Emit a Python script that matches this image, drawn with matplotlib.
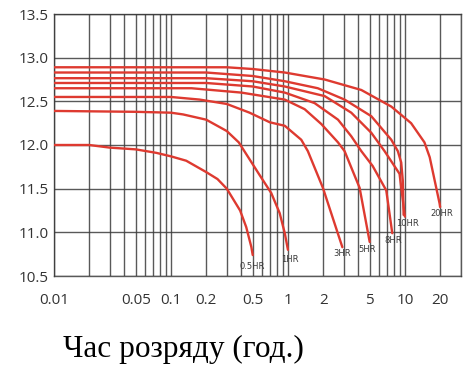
import matplotlib
matplotlib.use("Agg")
import matplotlib.pyplot as plt
from matplotlib.ticker import FixedLocator, NullFormatter, LogLocator

# ---- data (hours, volts) ----
h_05 = [0.01, 0.02, 0.03, 0.05, 0.075, 0.1, 0.135, 0.2, 0.25, 0.3, 0.39, 0.44, 0.487, 0.5]
v_05 = [12.0, 12.0, 11.97, 11.95, 11.91, 11.87, 11.82, 11.69, 11.61, 11.5, 11.25, 11.06, 10.83, 10.74]

h_1 = [0.01, 0.05, 0.1, 0.127, 0.2, 0.3, 0.38, 0.57, 0.72, 0.85, 0.94, 1.0]
v_1 = [12.39, 12.38, 12.37, 12.35, 12.29, 12.16, 12.03, 11.66, 11.45, 11.22, 10.99, 10.8]

h_3 = [0.01, 0.1, 0.176, 0.3, 0.47, 0.7, 0.94, 1.3, 1.48, 1.99, 2.92]
v_3 = [12.55, 12.55, 12.52, 12.47, 12.37, 12.26, 12.22, 12.06, 11.93, 11.51, 10.83]

h_5 = [0.01, 0.15, 0.4, 0.94, 1.39, 1.93, 2.68, 3.05, 4.1, 5.0]
v_5 = [12.65, 12.65, 12.6, 12.52, 12.41, 12.24, 12.03, 11.93, 11.51, 10.89]

h_8 = [0.01, 0.2, 0.5, 0.94, 1.69, 2.68, 3.48, 4.24, 5.3, 6.93, 7.8]
v_8 = [12.71, 12.71, 12.67, 12.6, 12.48, 12.29, 12.1, 11.93, 11.76, 11.48, 10.99]

h_10 = [0.01, 0.2, 0.5, 0.94, 2.06, 3.48, 5.16, 6.7, 9.0, 10.0]
v_10 = [12.765, 12.765, 12.73, 12.67, 12.56, 12.37, 12.14, 11.93, 11.67, 11.18]

h_x = [0.01, 0.2, 0.5, 0.94, 1.8, 3.05, 5.16, 7.65, 8.7, 9.3, 9.6, 9.75]
v_x = [12.83, 12.83, 12.79, 12.73, 12.65, 12.52, 12.33, 12.06, 11.93, 11.8, 11.59, 11.2]

h_20 = [0.01, 0.3, 0.5, 0.94, 2.06, 4.24, 7.65, 11.3, 14.7, 16.3, 19.8, 20.0]
v_20 = [12.89, 12.89, 12.87, 12.83, 12.75, 12.63, 12.44, 12.25, 12.03, 11.86, 11.33, 11.29]

labels = ["0.5HR", "1HR", "3HR", "5HR", "8HR", "10HR", "20HR"]
label_h = [0.49, 1.03, 2.9, 4.8, 7.9, 10.6, 20.6]
label_v = [10.61, 10.69, 10.76, 10.80, 10.91, 11.10, 11.22]

xtick_vals = [0.01, 0.05, 0.1, 0.2, 0.5, 1, 2, 5, 10, 20]
xtick_text = ["0.01", "0.05", "0.1", "0.2", "0.5", "1", "2", "5", "10", "20"]
ytick_vals = [10.5, 11.0, 11.5, 12.0, 12.5, 13.0, 13.5]
xlabel = "Час розряду (год.)"

fig = plt.figure(figsize=(4.73, 3.76), dpi=100)
ax = fig.add_axes([54 / 473, 100 / 376, (460.7 - 54) / 473, (276 - 14) / 376])

red = "#de3a30"
for h, v in [(h_05, v_05), (h_1, v_1), (h_3, v_3), (h_5, v_5), (h_8, v_8),
             (h_10, v_10), (h_x, v_x), (h_20, v_20)]:
    ax.plot(h, v, color=red, lw=1.7, solid_capstyle="round", zorder=3)

for t, hh, vv in zip(labels, label_h, label_v):
    ax.text(hh, vv, t, ha="center", va="center", fontsize=6,
            color="#3a3a3a", family=["Liberation Sans Narrow", "DejaVu Sans"], zorder=4)

ax.set_xscale("log")
ax.set_xlim(0.01, 30)
ax.set_ylim(10.5, 13.5)

ax.xaxis.set_major_locator(FixedLocator(xtick_vals))
ax.set_xticklabels(xtick_text)
ax.xaxis.set_minor_locator(LogLocator(base=10, subs=range(1, 10), numticks=20))
ax.xaxis.set_minor_formatter(NullFormatter())
ax.set_yticks(ytick_vals)
ax.set_yticklabels([f"{v:.1f}" for v in ytick_vals])

gcol = "#3c3c3c"
ax.grid(True, which="both", axis="x", color=gcol, lw=1.0, alpha=0.85, zorder=1)
ax.grid(True, which="major", axis="y", color=gcol, lw=1.0, alpha=0.85, zorder=1)
for s in ax.spines.values():
    s.set_color(gcol)
    s.set_linewidth(1.0)
    s.set_alpha(0.85)

ax.tick_params(axis="both", which="both", length=0)
ax.tick_params(axis="x", pad=12)
ax.tick_params(axis="y", pad=4)
for lab in ax.get_xticklabels() + ax.get_yticklabels():
    lab.set_fontsize(11)
    lab.set_color("#333333")
    lab.set_family(["Open Sans", "DejaVu Sans"])

fig.text(63 / 473, 1 - 357 / 376, xlabel, ha="left", va="baseline",
         fontsize=22.5, family=["Liberation Serif", "DejaVu Serif"], color="black")

fig.savefig("out.png", dpi=100)
